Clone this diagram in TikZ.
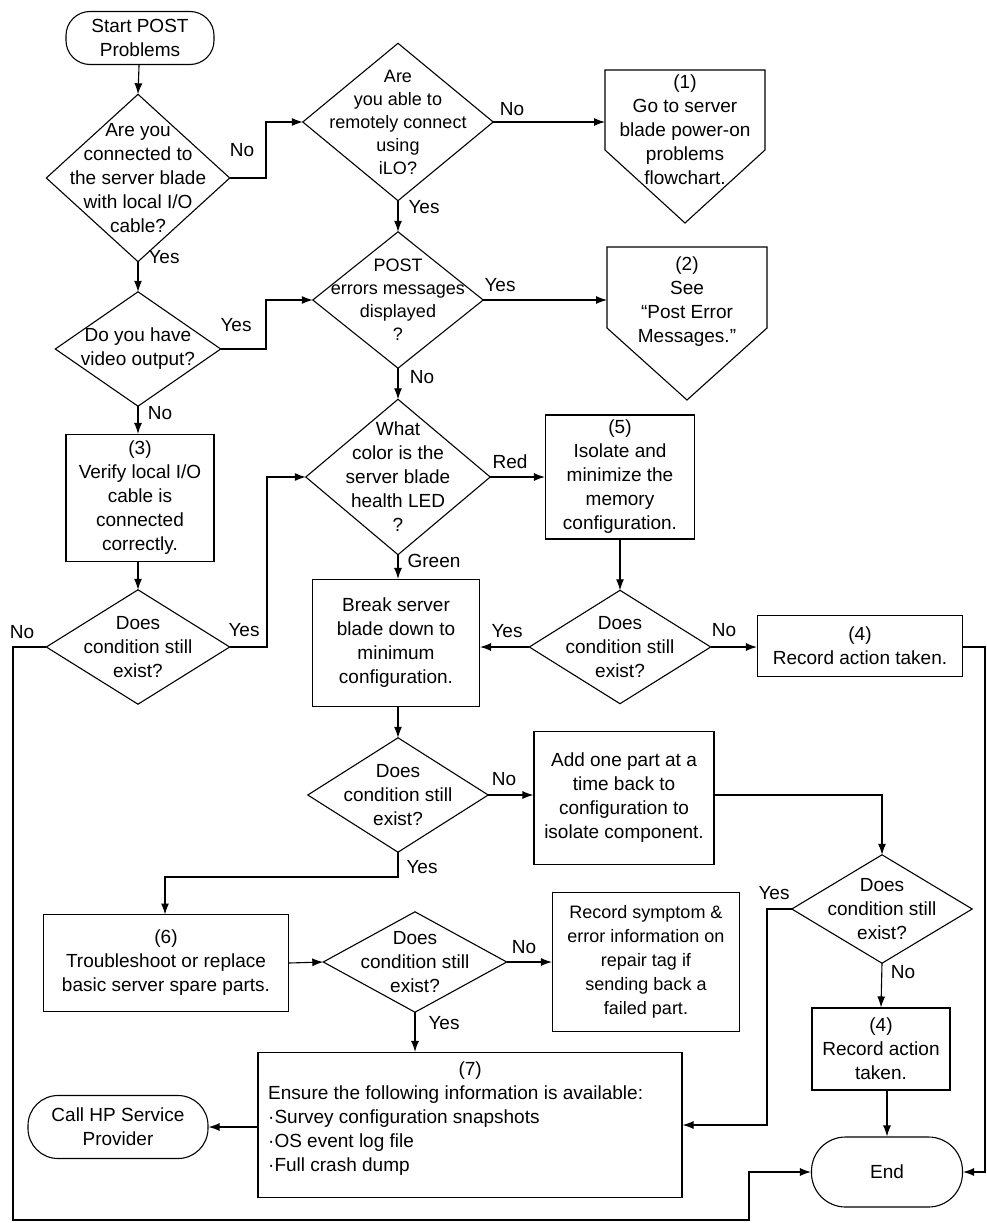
\documentclass[tikz,border=0pt]{standalone}
\usepackage{fontspec}
\setmainfont{Liberation Sans}
\usetikzlibrary{arrows.meta}
\begin{document}
\begin{tikzpicture}[x=1pt,y=-1pt,
  every node/.style={font=\fontsize{19}{24}\selectfont, align=center},
  box/.style={draw, line width=1.1pt, minimum width=#1, inner sep=1pt},
  dia/.style 2 args={minimum width=#1, minimum height=#2, inner sep=0pt},
  term/.style={draw, line width=1.1pt},
  lab/.style={font=\fontsize{19}{22}\selectfont, inner sep=1pt},
  ar/.style={line width=1.1pt, -{Latex[length=11pt,width=8pt]}},
  ln/.style={line width=1.1pt}]
\newcommand\drawdia[1]{\draw[ln] (#1.north)--(#1.east)--(#1.south)--(#1.west)--cycle;}
\useasboundingbox (0,0) rectangle (987,1223);
% nodes
\node[term, minimum width=148pt, minimum height=53pt, rounded corners=24pt] (start) at (140,38) {Start POST\\Problems};
\node[dia={183pt}{167pt}] (d1) at (138,178) {Are you\\connected to\\the server blade\\with local I/O\\cable?};
\drawdia{d1}
\node[dia={190pt}{157pt}, font=\fontsize{18}{23}\selectfont] (d2) at (398,122) {Are\\you able to\\remotely connect\\using\\iLO?};
\drawdia{d2}
\draw[ln] (605,70) -- (765,70) -- (765,150) -- (685,223) -- (605,150) -- cycle;
\node (p1) at (685,130) {(1)\\Go to server\\blade power-on\\problems\\flowchart.};
\coordinate (p1w) at (605,122);
\node[dia={165pt}{114pt}] (d3) at (138,349) {Do you have\\video output?};
\drawdia{d3}
\node[dia={170pt}{136pt}, font=\fontsize{18}{23}\selectfont] (d4) at (398,300) {POST\\errors messages\\displayed\\?};
\drawdia{d4}
\draw[ln] (607,247) -- (767,247) -- (767,328) -- (687,400) -- (607,328) -- cycle;
\node (p2) at (687,302) {(2)\\See\\``Post Error\\Messages.''};
\coordinate (p2w) at (607,300);
\node[box=148pt, minimum height=127pt] (b3) at (140,498) {(3)\\Verify local I/O\\cable is\\connected\\correctly.};
\node[dia={184pt}{155pt}] (d5) at (398,477) {What\\color is the\\server blade\\health LED\\?};
\drawdia{d5}
\node[box=149pt, minimum height=124pt] (b5) at (620,477) {(5)\\Isolate and\\minimize the\\memory\\configuration.};
\node[dia={183pt}{114pt}] (d6) at (138,647) {Does\\condition still\\exist?};
\drawdia{d6}
\node[box=167pt, minimum height=127pt] (brk) at (396,643) {Break server\\blade down to\\minimum\\configuration.};
\node[dia={181pt}{113pt}] (d7) at (620,647) {Does\\condition still\\exist?};
\drawdia{d7}
\node[box=205pt, minimum height=61pt] (b4a) at (860,646) {(4)\\Record action taken.};
\node[dia={180pt}{114pt}] (d8) at (398,795) {Does\\condition still\\exist?};
\drawdia{d8}
\node[box=180pt, minimum height=133pt] (add) at (624,798) {Add one part at a\\time back to\\configuration to\\isolate component.};
\node[dia={180pt}{108pt}] (d9) at (882,909) {Does\\condition still\\exist?};
\drawdia{d9}
\node[box=245pt, minimum height=97pt] (b6) at (166,963) {(6)\\Troubleshoot or replace\\basic server spare parts.};
\node[dia={183pt}{100pt}] (d10) at (415,962) {Does\\condition still\\exist?};
\drawdia{d10}
\node[box=187pt, minimum height=139pt, font=\fontsize{18}{24}\selectfont] (rec) at (646,962) {Record symptom \&\\error information on\\repair tag if\\sending back a\\failed part.};
\node[box=138pt, minimum height=82pt] (b4b) at (881,1049) {(4)\\Record action\\taken.};
\node[box=424pt, minimum height=145pt] (b7) at (470,1125) {};
\node[align=left, anchor=north west, inner sep=0pt] (b7t) at (268,1062) {\makebox[404pt]{(7)}\\Ensure the following information is available:\\\textperiodcentered Survey configuration snapshots\\\textperiodcentered OS event log file\\\textperiodcentered Full crash dump};
\node[term, minimum width=180pt, minimum height=63pt, rounded corners=30pt] (call) at (118,1127) {Call HP Service\\Provider};
\node[term, minimum width=151pt, minimum height=70pt, rounded corners=34pt] (end) at (887,1172) {End};
% connectors
\draw[ar] (start) -- (d1.north);
\draw[ar] (d1.east) -- (266,178) -- (266,122) -- (d2.west);
\draw[ar] (d2.east) -- (p1w);
\draw[ar] (d2.south) -- (d4.north);
\draw[ar] (d1.south) -- (d3.north);
\draw[ar] (d3.east) -- (266,349) -- (266,300) -- (d4.west);
\draw[ar] (d4.east) -- (p2w);
\draw[ar] (d4.south) -- (d5.north);
\draw[ar] (d3.south) -- (d3.south |- b3.north);
\draw[ar] (b3.south -| d6.north) -- (d6.north);
\draw[ar] (d6.east) -- (267,647) -- (267,477) -- (d5.west);
\draw[ar] (d6.west) -- (13,647) -- (13,1220) -- (749,1220) -- (749,1172) -- (end.west);
\draw[ar] (d5.east) -- (b5.west);
\draw[ar] (d5.south) -- (d5.south |- brk.north);
\draw[ar] (b5.south) -- (d7.north);
\draw[ar] (d7.west) -- (brk.east |- d7.west);
\draw[ar] (d7.east) -- (b4a.west |- d7.east);
\draw[ar] (b4a.east |- d7.east) -- (985,647) -- (985,1172) -- (end.east);
\draw[ar] (brk.south -| d8.north) -- (d8.north);
\draw[ar] (d8.east) -- (add.west |- d8.east);
\draw[ar] (add.east |- d8.east) -- (d8.east -| d9.north) -- (d9.north);
\draw[ar] (d8.south) -- (398,877) -- (165,877) -- (165,914.5);
\draw[ar] (b6.east) -- (d10.west);
\draw[ar] (d10.east) -- (rec.west |- d10.east);
\draw[ar] (d10.south) -- (d10.south |- b7.north);
\draw[ar] (d9.west) -- (767,909) -- (767,1125) -- (b7.east |- 0,1125);
\draw[ar] (d9.south) -- (b4b.north);
\draw[ar] (b4b.south -| end.north) -- (end.north);
\draw[ar] (b7.west |- call) -- (call.east);
% labels
\node[lab] at (242,150) {No};
\node[lab] at (512,109) {No};
\node[lab] at (424,207) {Yes};
\node[lab] at (164,257) {Yes};
\node[lab] at (236,325) {Yes};
\node[lab] at (500,285) {Yes};
\node[lab] at (422,377) {No};
\node[lab] at (160,413) {No};
\node[lab] at (510,462) {Red};
\node[lab] at (434,561) {Green};
\node[lab] at (244,630) {Yes};
\node[lab] at (22,632) {No};
\node[lab] at (507,631) {Yes};
\node[lab] at (724,630) {No};
\node[lab] at (504,779) {No};
\node[lab] at (422,867) {Yes};
\node[lab] at (774,893) {Yes};
\node[lab] at (524,947) {No};
\node[lab] at (903,972) {No};
\node[lab] at (444,1023) {Yes};
\end{tikzpicture}
\end{document}
